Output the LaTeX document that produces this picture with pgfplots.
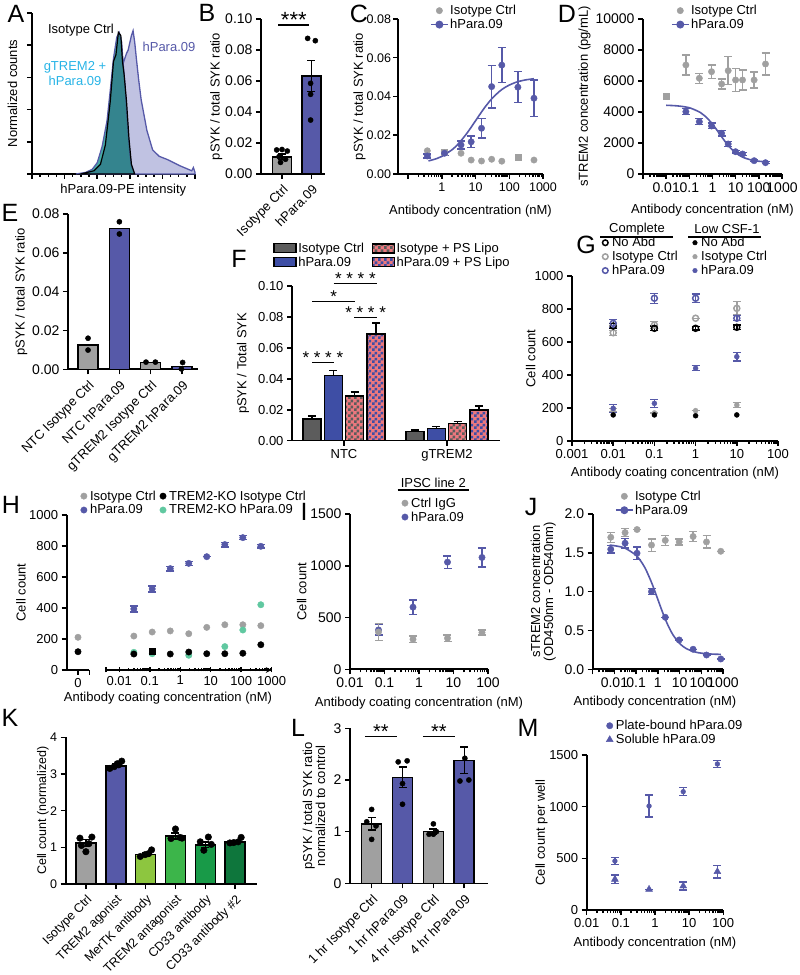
\documentclass[border=0pt]{standalone}
\usepackage{fontspec}
\setmainfont{Liberation Sans}
\usepackage{pgfplots}
\pgfplotsset{compat=1.18}
\usetikzlibrary{patterns}
\newcommand{\fs}[1]{\fontsize{#1}{#1}\selectfont}
\pgfdeclarepatternformonly{chk}{\pgfpointorigin}{\pgfqpoint{6pt}{6pt}}{\pgfqpoint{6pt}{6pt}}{%
  \pgfpathrectangle{\pgfpointorigin}{\pgfqpoint{3pt}{3pt}}%
  \pgfpathrectangle{\pgfqpoint{3pt}{3pt}}{\pgfqpoint{3pt}{3pt}}%
  \pgfusepath{fill}}

\definecolor{hblue}{RGB}{86,89,168}
\definecolor{fblue}{RGB}{62,78,165}
\definecolor{lgray}{RGB}{160,160,160}
\definecolor{dgray}{RGB}{92,92,92}
\definecolor{pinkc}{RGB}{236,120,126}
\definecolor{tealc}{RGB}{96,200,160}
\definecolor{cyanc}{RGB}{40,180,230}
\definecolor{lav}{RGB}{192,194,226}
\definecolor{gteal}{RGB}{70,170,165}
\definecolor{iteal}{RGB}{35,95,120}
\definecolor{kg1}{RGB}{141,198,63}
\definecolor{kg2}{RGB}{60,181,74}
\definecolor{kg3}{RGB}{24,154,72}
\definecolor{kg4}{RGB}{14,118,60}

\pgfplotsset{
  gp/.style={scale only axis, axis lines=left, axis line style={-, line width=1.6pt},
    tick style={line width=1.5pt, black}, tick align=outside,
    major tick length=5pt, minor tick length=3pt, enlargelimits=false, clip=false,
    scaled ticks=false,
    tick label style={font=\fs{13}}, label style={font=\fs{13}},
    /pgf/number format/assume math mode=true,
    legend cell align=left,
    legend style={draw=none, fill=none, font=\fs{13}, inner sep=0pt, nodes={inner sep=1.5pt}}},
  yl/.style={ylabel style={at={(axis description cs:#1,0.5)}, anchor=center}},
  xl/.style 2 args={xlabel style={at={(axis description cs:#1,#2)}, anchor=center}},
  lg/.style 2 args={legend style={at={(axis description cs:#1,#2)}, anchor=north west}},
  eb/.style={error bars/y dir=both, error bars/y explicit,
    error bars/error bar style={solid, line width=1.4pt, draw=#1},
    error bars/error mark options={rotate=90, solid, line width=1.4pt, mark size=4pt, #1}},
  br/.style={ybar, bar shift=0pt, draw=black, line width=1.5pt, fill=#1},
  pts/.style={only marks, mark=*, mark size=3.2pt, color=#1},
  dotleg/.style={legend image code/.code={\draw[##1] plot coordinates {(3.5pt,0pt)}; \path (0pt,0pt) (8pt,0pt);}},
  boxleg/.style={legend image code/.code={\draw[##1, line width=1.3pt] (0pt,-4.5pt) rectangle (22pt,4.5pt);}},
  chkfill/.style={fill=pinkc, postaction={pattern=chk, pattern color=#1}, postaction={fill=none, draw=black, line width=1.5pt}},
}

\begin{document}
\begin{tikzpicture}[x=1pt,y=1pt]
\useasboundingbox (0,0) rectangle (800,975);

% ---------------- A
\begin{axis}[gp, at={(32pt,801pt)}, anchor=south west, width=163pt, height=161pt,
  xmin=0, xmax=100, ymin=0, ymax=100,
  xtick={0,20,40,60,80,100}, minor x tick num=3, xticklabels={},
  ytick={0,20,40,60,80,100}, yticklabels={},
  xlabel={hPara.09-PE intensity}, ylabel={Normalized counts}, xl={0.56}{-0.1}, yl={-0.12}]
\addplot[fill=lav, draw=hblue, line width=1.3pt] coordinates {(37,0)(42,5)(46,19)(48,35)(50,56)(52,78)(53,85)(54.5,80)(56,69)(58,75)(59,77)(61,86)(62,89)(63,82)(64,72)(65.5,58)(67,46)(70.5,27)(74,15)(78,11)(83,9)(91,5)(98,2)(99,4)(100,1)} \closedcycle;
\addplot[fill=gteal, draw=hblue, line width=1.2pt] coordinates {(27,0)(33,1)(37,3)(40,7)(43,17)(46,33)(48,52)(50,72)(52,85)(53.5,88)(55,82)(56,68)(57,56)(58,40)(59,25)(60,13)(61,5)(63,0)} \closedcycle;
\addplot[fill=iteal, fill opacity=0.5, draw=black, line width=1.2pt] coordinates {(30,0)(38,2)(42,6)(45,18)(48,45)(50,70)(51.5,74)(53,88)(54.5,86)(55.5,70)(56.5,62)(58,45)(59.5,22)(61,6)(63,0)} \closedcycle;
\end{axis}
\node[font=\fs{13}] at (81,945) {Isotype Ctrl};
\node[font=\fs{13}, text=hblue] at (169,928) {hPara.09};
\node[font=\fs{13}, text=cyanc] at (75,908) {gTREM2 +};
\node[font=\fs{13}, text=cyanc] at (75,894) {hPara.09};

% ---------------- B
\begin{axis}[gp, at={(261pt,801pt)}, anchor=south west, width=64pt, height=155pt,
  xmin=0.288, xmax=2.458, ymin=0, ymax=0.1,
  ytick={0,0.02,0.04,0.06,0.08,0.1}, yticklabels={0.00,0.02,0.04,0.06,0.08,0.10},
  tick label style={font=\fs{14}},
  xtick={1,2}, xticklabels={Isotype Ctrl,hPara.09},
  x tick label style={rotate=45, anchor=north east, font=\fs{13}},
  ylabel={pSYK / total SYK ratio}, yl={-0.70}]
\addplot[br=lgray, bar width=19pt, eb=black, forget plot] coordinates {(1,0.011) +- (0,0.0018)};
\addplot[br=hblue, bar width=19pt, eb=black, forget plot] coordinates {(2,0.0632) +- (0,0.0100)};
\addplot[pts=black, mark size=2.6pt, forget plot] coordinates {(0.82,0.0155)(1.0,0.0158)(1.18,0.0148)(0.9,0.0112)(1.12,0.0095)(0.95,0.0075)
  (1.87,0.0875)(2.13,0.086)(1.97,0.0585)(1.97,0.0514)(1.97,0.0348)};
\draw[line width=1.5pt] (axis cs:0.87,0.0961) -- (axis cs:1.93,0.0961);
\node[font=\fs{22}, anchor=base] at (axis cs:1.4,0.0945) {***};
\end{axis}

% ---------------- C
\begin{axis}[gp, at={(398pt,801pt)}, anchor=south west, width=145pt, height=155pt,
  xmode=log, xmin=0.05, xmax=1000, ymin=0, ymax=0.08,
  xtick={0.1,1,10,100,1000}, xticklabels={,1,10,100,1000},
  ytick={0,0.02,0.04,0.06,0.08}, yticklabels={0.00,0.02,0.04,0.06,0.08},
  tick label style={font=\fs{12.5}}, yticklabel style={xshift=1.5pt},
  xlabel={Antibody concentration (nM)}, xl={0.5}{-0.24},
  ylabel={pSYK / total SYK ratio}, yl={-0.265}, lg={0.22}{1.10}]
\addlegendimage{only marks, mark=*, mark size=3.2pt, lgray}
\addlegendentry{Isotype Ctrl}
\addlegendimage{hblue, line width=1.5pt, mark=*, mark size=3.2pt}
\addlegendentry{hPara.09}
\addplot[pts=lgray, forget plot] coordinates {(0.37,0.012)(3.7,0.0107)(7.4,0.0072)(15,0.0067)(30,0.0076)(60,0.0066)(540,0.0072)};
\addplot[only marks, mark=square*, mark size=3pt, lgray, forget plot] coordinates {(1.2,0.0115)(180,0.0089)};
\addplot[hblue, line width=1.6pt, smooth, forget plot] coordinates {(0.4,0.00673)(0.7,0.00794)(1,0.00909)(2,0.0125)(3,0.01538)(5,0.0200)(7,0.02353)(10,0.0275)(15,0.032)(20,0.035)(30,0.03875)(50,0.0425)(70,0.04438)(100,0.0459)(150,0.0472)(200,0.04786)(300,0.04855)(540,0.04918)};
\addplot[pts=hblue, eb=hblue, forget plot] coordinates {(0.37,0.0093) +- (0,0.001) (1.2,0.0107) +- (0,0.001) (3.7,0.015) +- (0,0.002) (7.4,0.0166) +- (0,0.003) (15,0.0236) +- (0,0.005) (30,0.0451) +- (0,0.011) (60,0.0562) +- (0,0.009) (180,0.0448) +- (0,0.008) (540,0.0391) +- (0,0.0095)};
\end{axis}

% ---------------- D
\begin{axis}[gp, at={(643pt,801pt)}, anchor=south west, width=139pt, height=155pt,
  xmode=log, xmin=0.001, xmax=1000, ymin=0, ymax=10000,
  xtick={0.001,0.01,0.1,1,10,100,1000}, xticklabels={,0.01,0.1,1,10,100,1000},
  ytick={0,2000,4000,6000,8000,10000}, yticklabels={0,2000,4000,6000,8000,10000},
  tick label style={font=\fs{14}},
  xlabel={Antibody concentration (nM)}, xl={0.5}{-0.235},
  ylabel={sTREM2 concentration (pg/mL)}, yl={-0.42}, lg={0.2}{1.10}]
\addlegendimage{only marks, mark=*, mark size=3.2pt, lgray}
\addlegendentry{Isotype Ctrl}
\addlegendimage{hblue, line width=1.5pt, mark=*, mark size=3.2pt}
\addlegendentry{hPara.09}
\addplot[only marks, mark=square*, mark size=3pt, lgray, forget plot] coordinates {(0.0105,5032)};
\addplot[pts=lgray, eb=lgray, forget plot] coordinates {(0.071,7032) +- (0,645) (0.27,6174) +- (0,323) (0.91,6600) +- (0,430) (2.47,5806) +- (0,323) (4.75,6665) +- (0,900) (9.9,6065) +- (0,730) (19.8,6065) +- (0,645) (62.7,6065) +- (0,516) (194,7097) +- (0,710)};
\addplot[hblue, line width=1.6pt, smooth, forget plot] coordinates {(0.01,4432)(0.03,4395)(0.1,4274)(0.3,3967)(0.5,3710)(1,3217)(2,2600)(3,2230)(5,1807)(10,1367)(20,1086)(50,892)(100,823)(200,787)};
\addplot[pts=hblue, eb=hblue, forget plot] coordinates {(0.071,4019) +- (0,200) (0.27,3374) +- (0,200) (0.91,3097) +- (0,180) (2.47,2623) +- (0,180) (4.75,1935) +- (0,150) (9.9,1439) +- (0,80) (19.8,1290) +- (0,80) (62.7,858) +- (0,60) (194,729) +- (0,60)};
\end{axis}

% ---------------- E
\begin{axis}[gp, at={(68pt,605.7pt)}, anchor=south west, width=130pt, height=155.3pt,
  xmin=0.36, xmax=4.51, ymin=0, ymax=0.08,
  ytick={0,0.02,0.04,0.06,0.08}, yticklabels={0.00,0.02,0.04,0.06,0.08},
  tick label style={font=\fs{14}},
  xtick={1,2,3,4}, xticklabels={NTC Isotype Ctrl,NTC hPara.09,gTREM2 Isotype Ctrl,gTREM2 hPara.09},
  x tick label style={rotate=45, anchor=north east, font=\fs{13}},
  ylabel={pSYK / total SYK ratio}, yl={-0.36}]
\addplot[br=lgray, bar width=20pt, forget plot] coordinates {(1,0.0125)};
\addplot[br=hblue, bar width=20pt, forget plot] coordinates {(2,0.0725)};
\addplot[br=lgray, bar width=20pt, forget plot] coordinates {(3,0.0035)};
\addplot[br=hblue, bar width=20pt, forget plot] coordinates {(4,0.0015)};
\addplot[pts=black, mark size=2.6pt, forget plot] coordinates {(1,0.016)(1,0.0099)(2,0.076)(2,0.0697)(2.85,0.0037)(3.15,0.0037)(4.02,0.0035)(3.98,0.0002)};
\end{axis}

% ---------------- F
\begin{axis}[gp, at={(292pt,534.3pt)}, anchor=south west, width=208pt, height=154.7pt,
  xmin=0.495, xmax=2.515, ymin=0, ymax=0.1,
  ytick={0,0.02,0.04,0.06,0.08,0.1}, yticklabels={0.00,0.02,0.04,0.06,0.08,0.10},
  xtick={1,2}, xticklabels={NTC,gTREM2},
  ylabel={pSYK / Total SYK}, yl={-0.235},
  legend columns=2, lg={-0.09}{1.29}, boxleg,
  legend style={/tikz/every even column/.append style={column sep=6pt}}]
\addlegendimage{fill=dgray, draw=black}
\addlegendentry{Isotype Ctrl}
\addlegendimage{draw=black, chkfill=dgray}
\addlegendentry{Isotype + PS Lipo}
\addlegendimage{fill=fblue, draw=black}
\addlegendentry{hPara.09}
\addlegendimage{draw=black, chkfill=fblue}
\addlegendentry{hPara.09 + PS Lipo}
\addplot[br=dgray, bar width=18pt, forget plot] coordinates {(0.689,0.014) (1.689,0.006)};
\addplot[br=fblue, bar width=18pt, forget plot] coordinates {(0.896,0.042) (1.896,0.008)};
\addplot[br=pinkc, bar width=18pt, chkfill=dgray, forget plot] coordinates {(1.104,0.029) (2.104,0.011)};
\addplot[br=pinkc, bar width=18pt, chkfill=fblue, forget plot] coordinates {(1.311,0.069) (2.311,0.020)};
\addplot[draw=none, mark=none, eb=black, error bars/y dir=plus, forget plot] coordinates {
  (0.689,0.014) +- (0,0.002) (1.689,0.006) +- (0,0.001)
  (0.896,0.042) +- (0,0.0035) (1.896,0.008) +- (0,0.001)
  (1.104,0.029) +- (0,0.0025) (2.104,0.011) +- (0,0.0015)
  (1.311,0.069) +- (0,0.007) (2.311,0.020) +- (0,0.0025)};
\draw[line width=1.5pt] (axis cs:0.69,0.0507) -- (axis cs:0.90,0.0507);
\node[font=\fs{17}, anchor=base] at (axis cs:0.795,0.0500) {* * * *};
\draw[line width=1.5pt] (axis cs:0.69,0.0899) -- (axis cs:1.11,0.0899);
\node[font=\fs{17}, anchor=base] at (axis cs:0.90,0.0892) {*};
\draw[line width=1.5pt] (axis cs:0.90,0.1017) -- (axis cs:1.32,0.1017);
\node[font=\fs{17}, anchor=base] at (axis cs:1.11,0.1010) {* * * *};
\draw[line width=1.5pt] (axis cs:1.10,0.0795) -- (axis cs:1.32,0.0795);
\node[font=\fs{17}, anchor=base] at (axis cs:1.21,0.0788) {* * * *};
\end{axis}

% ---------------- G
\begin{axis}[gp, at={(572pt,534pt)}, anchor=south west, width=206pt, height=165pt,
  xmode=log, xmin=0.001, xmax=100, ymin=0, ymax=1000,
  xtick={0.001,0.01,0.1,1,10,100}, xticklabels={0.001,0.01,0.1,1,10,100},
  ytick={0,200,400,600,800,1000}, yticklabels={0,200,400,600,800,1000},
  xlabel={Antibody coating concentration (nM)}, xl={0.5}{-0.195},
  ylabel={Cell count}, yl={-0.2}, dotleg,
  legend columns=2, lg={0.14}{1.245},
  legend style={/tikz/every even column/.append style={column sep=12pt}}]
\addlegendimage{only marks, mark=o, mark size=2.8pt, line width=1.5pt, black}
\addlegendentry{No Abd}
\addlegendimage{only marks, mark=*, mark size=2.3pt, black}
\addlegendentry{No Abd}
\addlegendimage{only marks, mark=o, mark size=2.8pt, line width=1.5pt, lgray}
\addlegendentry{Isotype Ctrl}
\addlegendimage{only marks, mark=*, mark size=2.3pt, lgray}
\addlegendentry{Isotype Ctrl}
\addlegendimage{only marks, mark=o, mark size=2.8pt, line width=1.5pt, hblue}
\addlegendentry{hPara.09}
\addlegendimage{only marks, mark=*, mark size=2.3pt, hblue}
\addlegendentry{hPara.09}
\addplot[only marks, mark=o, mark size=3pt, line width=1.5pt, lgray, eb=lgray, forget plot] coordinates {(0.01,656) +- (0,15) (0.1,703) +- (0,20) (1,744) +- (0,0) (10,804) +- (0,40)};
\addplot[only marks, mark=o, mark size=3pt, line width=1.5pt, black, eb=black, forget plot] coordinates {(0.01,697) +- (0,15) (0.1,683) +- (0,15) (1,683) +- (0,10) (10,689) +- (0,15)};
\addplot[only marks, mark=o, mark size=3pt, line width=1.5pt, hblue, eb=hblue, forget plot] coordinates {(0.01,713) +- (0,25) (0.1,865) +- (0,30) (1,865) +- (0,25) (10,744) +- (0,15)};
\addplot[pts=lgray, mark size=2.5pt, eb=lgray, forget plot] coordinates {(0.01,188) +- (0,10) (0.1,170) +- (0,0) (1,184) +- (0,0) (10,218) +- (0,15)};
\addplot[pts=hblue, mark size=2.5pt, eb=hblue, forget plot] coordinates {(0.01,198) +- (0,25) (0.1,228) +- (0,25) (1,441) +- (0,15) (10,511) +- (0,25)};
\addplot[pts=black, mark size=2.5pt, forget plot] coordinates {(0.01,158)(0.1,158)(1,153)(10,158)};
\end{axis}
\node[font=\fs{13}] at (637,746) {Complete};
\node[font=\fs{13}] at (727,746) {Low CSF-1};
\draw[line width=1.2pt] (600,738) -- (673,738);
\draw[line width=1.2pt] (688,738) -- (761,738);

% ---------------- H (broken axis)
\begin{axis}[gp, at={(66.7pt,305pt)}, anchor=south west, width=22.6pt, height=155pt,
  xmin=-1, xmax=1, ymin=0, ymax=1000,
  xtick={0}, xticklabels={0}, extra x ticks={1}, extra x tick labels={},
  ytick={0,200,400,600,800,1000}, yticklabels={0,200,400,600,800,1000},
  tick label style={font=\fs{13}}]
\addplot[pts=lgray, forget plot] coordinates {(0,211)};
\addplot[pts=black, forget plot] coordinates {(0,118)};
\end{axis}
\begin{axis}[gp, axis x line=bottom, axis y line=none, at={(106pt,305pt)}, anchor=south west, width=165.7pt, height=155pt,
  xmode=log, xmin=0.00366, xmax=1000, ymin=0, ymax=1000, ytick=\empty,
  xtick={0.01,0.1,1,10,100,1000}, xticklabels={0.01,0.1,1,10,100,1000},
  extra x ticks={0.00366}, extra x tick labels={},
  tick label style={font=\fs{13}}, dotleg,
  legend columns=2, lg={-0.157}{1.168},
  legend style={/tikz/every even column/.append style={column sep=2pt}}]
\addlegendimage{only marks, mark=*, mark size=3.2pt, lgray}
\addlegendentry{Isotype Ctrl}
\addlegendimage{only marks, mark=*, mark size=3.2pt, black}
\addlegendentry{TREM2-KO Isotype Ctrl}
\addlegendimage{only marks, mark=*, mark size=3.2pt, hblue}
\addlegendentry{hPara.09}
\addlegendimage{only marks, mark=*, mark size=3.2pt, tealc}
\addlegendentry{TREM2-KO hPara.09}
\addplot[pts=lgray, forget plot] coordinates {(0.03,219)(0.12,245)(0.47,252)(1.9,234)(7.4,275)(29,292)(113,292)(440,286)};
\addplot[pts=tealc, forget plot] coordinates {(0.03,114)(0.12,105)(1.9,95)(29,151)(113,258)(440,421)};
\addplot[pts=black, forget plot] coordinates {(0.03,103)(0.47,103)(1.9,116)(7.4,105)(29,105)(113,108)(440,163)};
\addplot[only marks, mark=square*, mark size=3pt, black, forget plot] coordinates {(0.12,123)};
\addplot[pts=hblue, eb=hblue, forget plot] coordinates {(0.03,394) +- (0,20) (0.12,523) +- (0,20) (0.47,654) +- (0,15) (1.9,688) +- (0,12) (7.4,731) +- (0,0) (29,809) +- (0,15) (113,854) +- (0,12) (440,798) +- (0,12)};
\end{axis}
\node[font=\fs{13}] at (168,277) {Antibody coating concentration (nM)};
\node[font=\fs{13}, rotate=90] at (21,382.5) {Cell count};

% ---------------- I
\begin{axis}[gp, at={(350pt,305.7pt)}, anchor=south west, width=138pt, height=155.3pt,
  xmode=log, xmin=0.01, xmax=100, ymin=0, ymax=1500,
  xtick={0.01,0.1,1,10,100}, xticklabels={0.01,0.1,1,10,100},
  ytick={0,500,1000,1500}, yticklabels={0,500,1000,1500},
  tick label style={font=\fs{14}},
  xlabel={Antibody coating concentration (nM)}, xl={0.5}{-0.217},
  ylabel={Cell count}, yl={-0.35}, dotleg, lg={0.37}{1.116}]
\addlegendimage{only marks, mark=*, mark size=3.2pt, lgray}
\addlegendentry{Ctrl IgG}
\addlegendimage{only marks, mark=*, mark size=3.2pt, hblue}
\addlegendentry{hPara.09}
\addplot[pts=hblue, eb=hblue, forget plot] coordinates {(0.067,380) +- (0,50) (0.67,600) +- (0,70) (6.7,1035) +- (0,60) (67,1080) +- (0,90)};
\addplot[pts=lgray, eb=lgray, forget plot] coordinates {(0.067,360) +- (0,80) (0.67,290) +- (0,30) (6.7,300) +- (0,30) (67,355) +- (0,25)};
\end{axis}
\node[font=\fs{13}] at (433.3,492.3) {IPSC line 2};
\draw[line width=1.2pt] (397.7,485) -- (469.3,485);

% ---------------- J
\begin{axis}[gp, at={(592.7pt,305.7pt)}, anchor=south west, width=130.3pt, height=155.3pt,
  xmode=log, xmin=0.001, xmax=1000, ymin=0, ymax=2,
  xtick={0.001,0.01,0.1,1,10,100,1000}, xticklabels={,0.01,0.1,1,10,100,1000},
  ytick={0,0.5,1,1.5,2}, yticklabels={0.0,0.5,1.0,1.5,2.0},
  tick label style={font=\fs{14}},
  xlabel={Antibody concentration (nM)}, xl={0.478}{-0.21},
  ylabel={sTREM2 concentration\\(OD450nm - OD540nm)}, yl={-0.38},
  ylabel style={align=center}, lg={0.17}{1.16}]
\addlegendimage{only marks, mark=*, mark size=3.2pt, lgray}
\addlegendentry{Isotype Ctrl}
\addlegendimage{hblue, line width=1.5pt, mark=*, mark size=3.2pt}
\addlegendentry{hPara.09}
\addplot[pts=lgray, eb=lgray, forget plot] coordinates {(0.0068,1.70) +- (0,0.064) (0.031,1.76) +- (0,0.05) (0.11,1.80) +- (0,0) (0.51,1.60) +- (0,0.08) (2.2,1.66) +- (0,0.064) (9.6,1.64) +- (0,0.04) (42,1.71) +- (0,0.064) (174,1.64) +- (0,0.08) (790,1.52) +- (0,0)};
\addplot[hblue, line width=1.6pt, smooth, forget plot] coordinates {(0.006,1.599)(0.01,1.592)(0.03,1.561)(0.1,1.467)(0.2,1.357)(0.3,1.267)(0.5,1.125)(0.7,1.019)(1,0.90)(1.5,0.765)(2,0.675)(3,0.56)(5,0.443)(10,0.333)(20,0.268)(50,0.224)(100,0.208)(300,0.196)(800,0.1925)};
\addplot[pts=hblue, eb=hblue, forget plot] coordinates {(0.0068,1.546) +- (0,0.05) (0.031,1.624) +- (0,0.06) (0.11,1.495) +- (0,0.08) (0.51,1.0) +- (0,0.04) (2.2,0.67) +- (0,0) (9.6,0.378) +- (0,0) (42,0.258) +- (0,0) (174,0.184) +- (0,0) (790,0.133) +- (0,0)};
\end{axis}

% ---------------- K
\begin{axis}[gp, at={(65.7pt,91pt)}, anchor=south west, width=191pt, height=146.7pt,
  xmin=0.323, xmax=6.72, ymin=0, ymax=4,
  ytick={0,1,2,3,4}, yticklabels={0,1,2,3,4},
  xtick={1,2,3,4,5,6}, xticklabels={Isotype Ctrl,TREM2 agonist,MerTK antibody,TREM2 antagonist,CD33 antibody,CD33 antibody \#2},
  x tick label style={rotate=45, anchor=north east, font=\fs{12.5}},
  tick label style={font=\fs{12.5}}, label style={font=\fs{12.5}},
  ylabel={Cell count (normalized)}, yl={-0.12}]
\addplot[br=lgray, bar width=20pt, eb=black, forget plot] coordinates {(1,1.12) +- (0,0.1)};
\addplot[br=hblue, bar width=20pt, eb=black, forget plot] coordinates {(2,3.22) +- (0,0.05)};
\addplot[br=kg1, bar width=20pt, eb=black, forget plot] coordinates {(3,0.80) +- (0,0.04)};
\addplot[br=kg2, bar width=20pt, eb=black, forget plot] coordinates {(4,1.31) +- (0,0.08)};
\addplot[br=kg3, bar width=20pt, eb=black, forget plot] coordinates {(5,1.07) +- (0,0.07)};
\addplot[br=kg4, bar width=20pt, eb=black, forget plot] coordinates {(6,1.15) +- (0,0.04)};
\addplot[pts=black, mark size=3.3pt, forget plot] coordinates {(0.8,1.25)(1.2,1.28)(1.1,1.1)(1.0,0.88)(0.85,1.05)
 (1.8,3.15)(1.95,3.2)(2.1,3.25)(2.2,3.35)(2.05,3.28)
 (2.82,0.75)(2.98,0.8)(3.1,0.83)(3.2,0.93)
 (3.85,1.24)(4.0,1.5)(4.15,1.27)(4.22,1.25)
 (4.83,1.15)(4.95,0.92)(5.1,1.28)(5.2,1.08)
 (5.82,1.12)(5.95,1.13)(6.1,1.15)(6.2,1.27)};
\end{axis}

% ---------------- L
\begin{axis}[gp, at={(350pt,91.7pt)}, anchor=south west, width=138.3pt, height=155pt,
  xmin=0.298, xmax=4.78, ymin=0, ymax=3,
  ytick={0,1,2,3}, yticklabels={0,1,2,3},
  xtick={1,2,3,4}, xticklabels={1 hr Isotype Ctrl,1 hr hPara.09,4 hr Isotype Ctrl,4 hr hPara.09},
  x tick label style={rotate=45, anchor=north east, font=\fs{13}},
  tick label style={font=\fs{14}},
  ylabel={pSYK / total SYK ratio\\normalized to control}, ylabel style={align=center}, yl={-0.26}]
\addplot[br=lgray, bar width=20pt, eb=black, forget plot] coordinates {(1,1.15) +- (0,0.12)};
\addplot[br=hblue, bar width=20pt, eb=black, forget plot] coordinates {(2,2.05) +- (0,0.2)};
\addplot[br=lgray, bar width=20pt, eb=black, forget plot] coordinates {(3,1.0) +- (0,0.05)};
\addplot[br=hblue, bar width=20pt, eb=black, forget plot] coordinates {(4,2.38) +- (0,0.26)};
\addplot[pts=black, mark size=2.6pt, forget plot] coordinates {(1.0,1.43)(0.84,1.19)(1.14,1.11)(1.0,0.85)
 (1.86,2.35)(2.15,2.37)(2.0,1.93)(2.0,1.53)
 (3.0,1.15)(2.86,0.95)(3.1,1.0)(3.0,0.95)
 (4.02,2.42)(3.86,1.98)(4.15,2.0)};
\draw[line width=1.5pt] (axis cs:0.78,2.84) -- (axis cs:1.81,2.84);
\draw[line width=1.5pt] (axis cs:2.66,2.84) -- (axis cs:3.70,2.84);
\node[font=\fs{20}, anchor=base] at (axis cs:1.3,2.80) {**};
\node[font=\fs{20}, anchor=base] at (axis cs:3.18,2.80) {**};
\end{axis}

% ---------------- M
\begin{axis}[gp, at={(586.7pt,65pt)}, anchor=south west, width=136.6pt, height=155pt,
  xmode=log, xmin=0.01, xmax=100, ymin=0, ymax=1500,
  xtick={0.01,0.1,1,10,100}, xticklabels={0.01,0.1,1,10,100},
  ytick={0,500,1000,1500}, yticklabels={0,500,1000,1500},
  tick label style={font=\fs{13}},
  xlabel={Antibody concentration (nM)}, xl={0.5}{-0.215},
  ylabel={Cell count per well}, yl={-0.33}, dotleg, lg={0.14}{1.235}]
\addlegendimage{only marks, mark=*, mark size=3.2pt, hblue}
\addlegendentry{Plate-bound hPara.09}
\addlegendimage{only marks, mark=triangle*, mark size=4pt, hblue}
\addlegendentry{Soluble hPara.09}
\addplot[only marks, mark=*, mark size=2.4pt, hblue, eb=hblue, forget plot] coordinates {(0.067,474) +- (0,32) (0.67,1006) +- (0,105) (6.7,1145) +- (0,39) (67,1413) +- (0,35)};
\addplot[only marks, mark=triangle*, mark size=4pt, hblue, eb=hblue, forget plot] coordinates {(0.067,297) +- (0,40) (0.67,200) +- (0,0) (6.7,232) +- (0,40) (67,371) +- (0,60)};
\end{axis}

% ---------------- panel letters
\node[font=\fs{25}] at (16,961) {A};
\node[font=\fs{25}] at (207,962) {B};
\node[font=\fs{25}] at (359,961) {C};
\node[font=\fs{25}] at (567,961) {D};
\node[font=\fs{25}] at (10,762) {E};
\node[font=\fs{25}] at (239,716) {F};
\node[font=\fs{25}] at (586,730) {G};
\node[font=\fs{25}] at (11,470) {H};
\node[font=\fs{25}] at (304,463) {I};
\node[font=\fs{25}] at (531,468) {J};
\node[font=\fs{25}] at (10,257) {K};
\node[font=\fs{25}] at (298,247) {L};
\node[font=\fs{25}] at (528,247) {M};
\end{tikzpicture}
\end{document}
